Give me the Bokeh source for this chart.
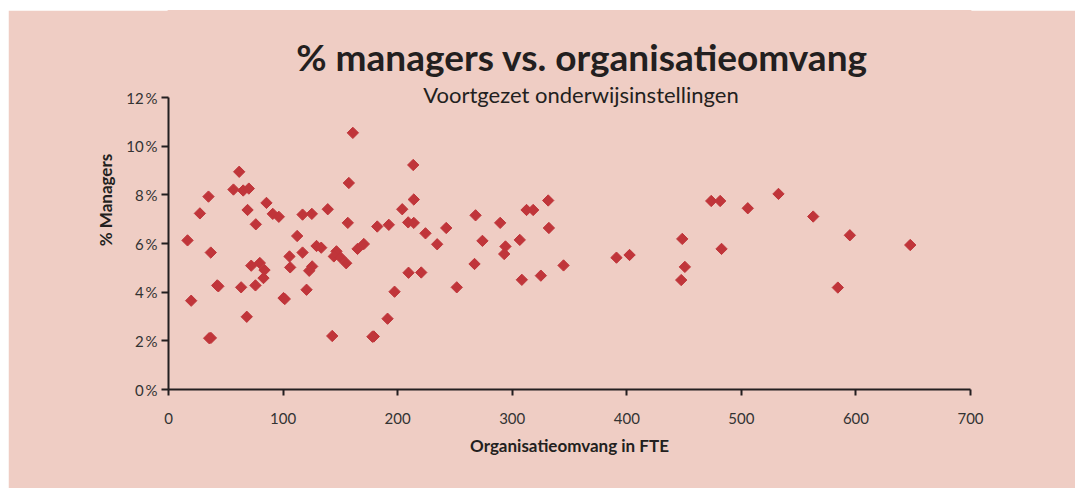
import numpy as np
from bokeh.plotting import figure
from bokeh.models import Range1d, Label, FixedTicker, PrintfTickFormatter, ColumnDataSource
from bokeh.embed import file_html
from bokeh.resources import INLINE

# Organisatieomvang (FTE)
fte = [61.7, 56.7, 65.2, 70.1, 34.9, 27.4, 85.5, 69.0, 91.0, 96.3, 117.0, 76.2, 16.6, 112.3,
       36.9, 105.6, 117.0, 72.2, 79.7, 83.8, 82.9, 106.2, 42.5, 63.4, 75.9, 100.4, 120.5, 19.8,
       68.3, 35.5, 37.0, 101.5, 43.5,
       160.9, 213.6, 157.4, 214.1, 204.0, 125.1, 139.0, 156.5, 182.2, 192.3, 209.2, 214.1, 224.3,
       242.4, 234.5, 129.2, 133.3, 165.0, 170.5, 146.6, 144.3, 150.1, 155.1, 125.4, 122.8, 209.5,
       220.6, 197.3, 191.2, 142.9, 179.2, 178.0,
       331.4, 312.5, 318.3, 268.0, 289.5, 332.0, 274.0, 306.6, 294.1, 293.0, 267.1, 344.8, 391.0,
       402.4, 251.6, 308.4, 325.0,
       448.4, 450.7, 447.5, 473.7, 481.5, 482.7, 505.6, 532.4, 562.7, 594.7, 584.2, 647.4]
# % managers
pct = [8.95, 8.22, 8.18, 8.26, 7.93, 7.24, 7.67, 7.38, 7.22, 7.10, 7.19, 6.79, 6.13, 6.31,
       5.63, 5.47, 5.63, 5.09, 5.20, 4.91, 4.58, 5.02, 4.28, 4.20, 4.28, 3.76, 4.10, 3.65,
       2.99, 2.11, 2.12, 3.72, 4.24,
       10.55, 9.23, 8.49, 7.81, 7.41, 7.22, 7.41, 6.85, 6.70, 6.77, 6.87, 6.85, 6.42,
       6.64, 5.97, 5.90, 5.83, 5.78, 5.98, 5.68, 5.47, 5.43, 5.19, 5.06, 4.88, 4.80,
       4.81, 4.02, 2.91, 2.20, 2.18, 2.17,
       7.77, 7.38, 7.38, 7.16, 6.85, 6.64, 6.11, 6.15, 5.88, 5.57, 5.16, 5.10, 5.42,
       5.53, 4.20, 4.51, 4.68,
       6.19, 5.04, 4.50, 7.75, 7.75, 5.78, 7.45, 8.04, 7.11, 6.34, 4.19, 5.94]

x_ticks = [0, 100, 200, 300, 400, 500, 600, 700]
y_ticks = [0, 2, 4, 6, 8, 10, 12]

title_text = "% managers vs. organisatieomvang"
subtitle_text = "Voortgezet onderwijsinstellingen"
x_label = "Organisatieomvang in FTE"
y_label = "% Managers"

BG = "#EFCDC4"
INK = "#231F20"
RED = "#C0353A"
FONT = "Lato"

p = figure(width=1067, height=478, output_backend="svg", toolbar_location=None, title=None,
           x_range=Range1d(0, 700), y_range=Range1d(0, 15.58),
           min_border_left=160, min_border_right=105, min_border_top=0, min_border_bottom=99)
p.margin = (10, 0, 0, 8)
p.background_fill_color = BG
p.border_fill_color = BG
p.outline_line_color = BG
p.outline_line_width = 2
p.grid.visible = False

src = ColumnDataSource(dict(x=fte, y=pct))
p.scatter("x", "y", source=src, marker="square", size=8, angle=np.pi / 4,
          fill_color=RED, line_color=RED, line_width=1)

for ax in (p.xaxis[0], p.yaxis[0]):
    ax.axis_line_color = INK
    ax.axis_line_width = 2
    ax.major_tick_line_color = INK
    ax.major_tick_line_width = 2
    ax.major_tick_in = 0
    ax.minor_tick_line_color = None
    ax.major_label_text_font = FONT
    ax.major_label_text_font_size = "15px"
    ax.major_label_text_color = "#333333"
    ax.axis_label_text_font = FONT
    ax.axis_label_text_font_size = "17px"
    ax.axis_label_text_font_style = "bold"
    ax.axis_label_text_color = INK

p.xaxis.ticker = FixedTicker(ticks=x_ticks)
p.yaxis.ticker = FixedTicker(ticks=y_ticks)
p.xaxis.bounds = (0, 700)
p.yaxis.bounds = (0, 12)
p.yaxis.formatter = PrintfTickFormatter(format="%d\u2009%%")
p.xaxis.major_tick_out = 6
p.yaxis.major_tick_out = 7
p.xaxis.major_label_standoff = 17
p.yaxis.major_label_standoff = 4
p.xaxis.axis_label = x_label
p.yaxis.axis_label = y_label
p.xaxis.axis_label_standoff = 8
p.yaxis.axis_label_standoff = 7

p.add_layout(Label(x=361, y=13.7, text=title_text, text_font=FONT, text_font_size="37px",
                   text_font_style="bold", text_color=INK, text_align="center",
                   text_baseline="alphabetic"))
p.add_layout(Label(x=360, y=12.14, text=subtitle_text, text_font=FONT, text_font_size="22px",
                   text_color=INK, text_align="center", text_baseline="alphabetic"))

open("out.html", "w").write(file_html(p, INLINE))
